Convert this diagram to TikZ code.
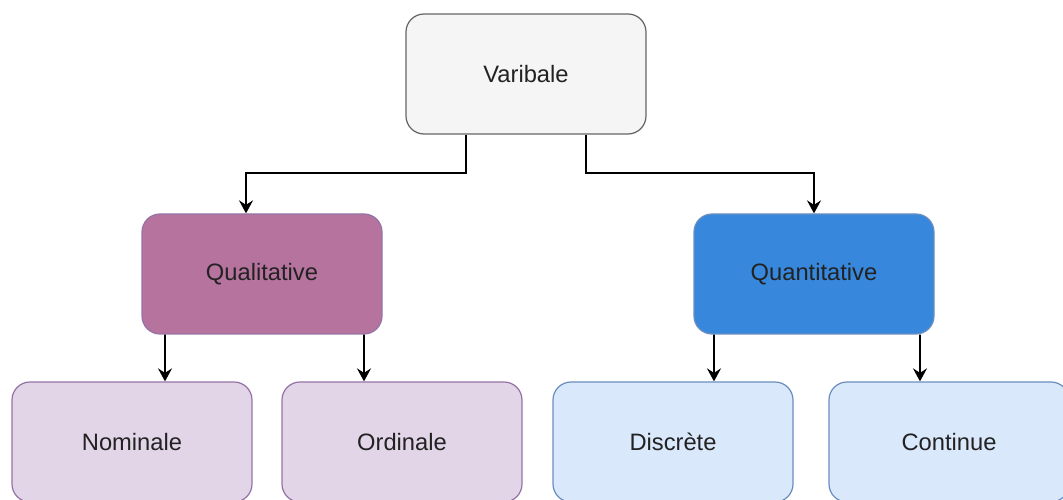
\documentclass[tikz,border=0pt]{standalone}
\usepackage{fontspec}
\setmainfont{Liberation Sans}
\usepackage{tikz}
\definecolor{rootfill}{HTML}{F5F5F5}
\definecolor{rootline}{HTML}{666666}
\definecolor{qualfill}{HTML}{B5739D}
\definecolor{qualline}{HTML}{9673A6}
\definecolor{qualleaf}{HTML}{E1D5E7}
\definecolor{quantfill}{HTML}{3788DC}
\definecolor{quantline}{HTML}{6C8EBF}
\definecolor{quantleaf}{HTML}{DAE8FC}
\definecolor{txt}{HTML}{222222}
\usetikzlibrary{calc,positioning,arrows.meta}
\tikzset{%
  box/.style={draw, rectangle, rounded corners=0.36cm, line width=0.7pt,
    minimum width=4.8cm, minimum height=2.4cm, text=txt,
    font=\fontsize{13.5}{16}\selectfont},% generic box
  root/.style={box, fill=rootfill, draw=rootline},% top box
  qualbox/.style={box, fill=qualfill, draw=qualline},% qualitative
  qualsub/.style={box, fill=qualleaf, draw=qualline},% qualitative leaves
  quantbox/.style={box, fill=quantfill, draw=quantline},% quantitative
  quantsub/.style={box, fill=quantleaf, draw=quantline},% quantitative leaves
  link/.style={draw, line width=1.1pt,
    -{Stealth[length=2.6mm, width=2.8mm, inset=0.9mm]}}% connectors
}

\begin{document}
\begin{tikzpicture}
\useasboundingbox (0,0) rectangle (21.26,-10);

\node[root] (var) at (10.52, -1.48) {Varibale};

\node[qualbox] (qual) at (5.24, -5.48) {Qualitative};
\node[quantbox] (quant) at (16.28, -5.48) {Quantitative};

\node[qualsub] (nom) at (2.64, -8.84) {Nominale};
\node[qualsub] (ord) at (8.04, -8.84) {Ordinale};
\node[quantsub] (disc) at (13.46, -8.84) {Discrète};
\node[quantsub] (cont) at (18.98, -8.84) {Continue};

% root to the two families
\draw[link] ($(var.south)+(-1.2,0)$) |- ($(qual.north)+(-0.32,0.8)$) -- ($(qual.north)+(-0.32,0)$);
\draw[link] ($(var.south)+(1.2,0)$) |- ($(quant.north)+(0,0.8)$) -- (quant.north);

% families to leaves
\draw[link] ($(qual.south)+(-1.94,0)$) -- ($(nom.north)+(0.66,0)$);
\draw[link] ($(qual.south)+(2.04,0)$) -- ($(ord.north)+(-0.76,0)$);
\draw[link] ($(quant.south)+(-2.0,0)$) -- ($(disc.north)+(0.82,0)$);
\draw[link] ($(quant.south)+(2.12,0)$) -- ($(cont.north)+(-0.58,0)$);
\end{tikzpicture}
\end{document}
